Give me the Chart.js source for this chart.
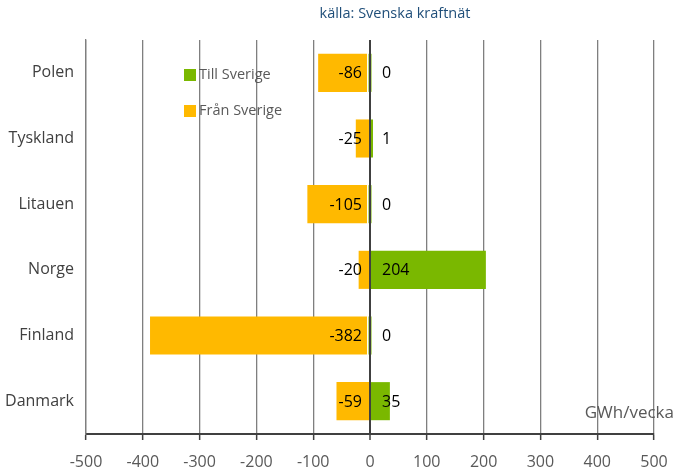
<!DOCTYPE html>
<html>
<head>
<meta charset="utf-8">
<script src="https://cdn.jsdelivr.net/npm/chart.js@4/dist/chart.umd.min.js"></script>
<style>
html,body{margin:0;padding:0;background:#fff;}
#wrap{width:676px;height:473px;position:relative;}
</style>
</head>
<body>
<div id="wrap"><canvas id="c" width="676" height="473"></canvas></div>
<script>
const categories = ["Polen", "Tyskland", "Litauen", "Norge", "Finland", "Danmark"];
const tillSverige = [0, 1, 0, 204, 0, 35];
const franSverige = [-86, -25, -105, -20, -382, -59];
const seriesNames = ["Till Sverige", "Från Sverige"];
const xTicks = [-500, -400, -300, -200, -100, 0, 100, 200, 300, 400, 500];
const sourceText = "källa: Svenska kraftnät";
const unitText = "GWh/vecka";

const GREEN = "#7AB800";
const ORANGE = "#FFB900";
const FONT = "'Open Sans', 'Noto Sans', sans-serif";

const extras = {
  id: "extras",
  afterDatasetsDraw(chart) {
    const ctx = chart.ctx;
    const ca = chart.chartArea;
    const base = chart.scales.x.getPixelForValue(0);
    ctx.save();
    // zero axis line over the bars
    ctx.strokeStyle = "#404040";
    ctx.lineWidth = 2;
    ctx.beginPath();
    ctx.moveTo(base, ca.top);
    ctx.lineTo(base, ca.bottom);
    ctx.stroke();
    ctx.font = "16px " + FONT;
    ctx.fillStyle = "#000";
    ctx.textBaseline = "middle";
    chart.data.datasets.forEach((ds, di) => {
      const meta = chart.getDatasetMeta(di);
      meta.data.forEach((el, i) => {
        const v = ds.data[i];
        if (di === 0) {
          ctx.textAlign = "left";
          ctx.fillText(String(v), base + 12, el.y + 1);
        } else {
          ctx.textAlign = "right";
          ctx.fillText(String(v), base - 8, el.y + 1);
        }
      });
    });
    // legend
    const colors = [GREEN, ORANGE];
    const ly = [75, 111];
    ctx.font = "14.5px " + FONT;
    ctx.textAlign = "left";
    seriesNames.forEach((n, i) => {
      ctx.fillStyle = colors[i];
      ctx.fillRect(184, ly[i] - 6, 12, 12);
      ctx.fillStyle = "#595959";
      ctx.fillText(n, 199, ly[i]);
    });
    // source
    ctx.font = "14.5px " + FONT;
    ctx.fillStyle = "#1F4E79";
    ctx.textAlign = "center";
    ctx.fillText(sourceText, 395, 14);
    // unit
    ctx.font = "17px " + FONT;
    ctx.fillStyle = "#595959";
    ctx.textAlign = "right";
    ctx.fillText(unitText, 674, 413);
    ctx.restore();
  }
};

new Chart(document.getElementById("c"), {
  type: "bar",
  data: {
    labels: categories,
    datasets: [
      { label: seriesNames[0], data: tillSverige, backgroundColor: GREEN, minBarLength: 3, barPercentage: 0.58, categoryPercentage: 1 },
      { label: seriesNames[1], data: franSverige, backgroundColor: ORANGE, barPercentage: 0.58, categoryPercentage: 1 }
    ]
  },
  options: {
    indexAxis: "y",
    responsive: false,
    animation: false,
    devicePixelRatio: 1,
    layout: { padding: { top: 40, right: 22, left: 0, bottom: 0 } },
    plugins: { legend: { display: false }, title: { display: false }, tooltip: { enabled: false } },
    scales: {
      x: {
        stacked: true,
        min: -500, max: 500,
        afterBuildTicks(scale) { scale.ticks = xTicks.map(v => ({ value: v })); },
        afterFit(scale) { scale.height = 39; scale.paddingLeft = 0; scale.paddingRight = 0; },
        grid: {
          color: (c) => c.tick && c.tick.value === 0 ? "#404040" : "#7f7f7f",
          lineWidth: (c) => c.tick && c.tick.value === 0 ? 2 : 1.3,
          drawTicks: true, tickLength: 6, tickColor: "#404040", tickWidth: 1.5
        },
        border: { display: true, color: "#404040", width: 2 },
        ticks: { color: "#595959", font: { family: FONT, size: 16 }, padding: 13, maxRotation: 0 }
      },
      y: {
        stacked: true,
        afterFit(scale) { scale.width = 86; },
        grid: { display: false, drawTicks: false },
        border: { display: true, color: "#7f7f7f", width: 1.3 },
        ticks: { color: "#404040", font: { family: FONT, size: 16 }, padding: 12 }
      }
    }
  },
  plugins: [extras]
});
</script>
</body>
</html>
